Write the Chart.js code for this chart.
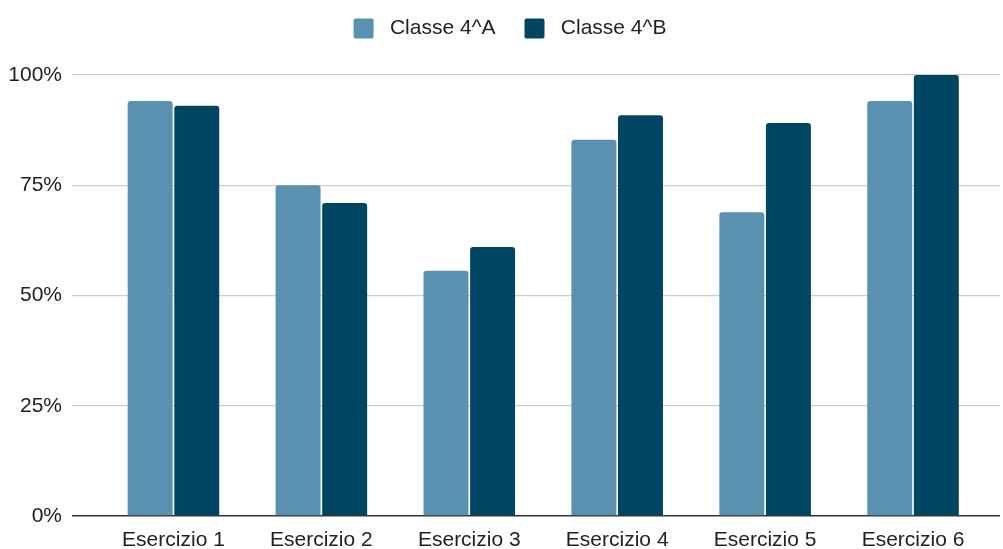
<!DOCTYPE html>
<html>

<head>
    <meta charset="utf-8">
    <title>Esercizi - Classi 4^A e 4^B</title>
    <script src="https://cdn.jsdelivr.net/npm/chart.js"></script>
    <style>
        html, body { margin: 0; padding: 0; background: #ffffff; }
        #wrap { width: 1003px; height: 549px; position: relative; }
    </style>
</head>

<body>
    <div id="wrap">
        <canvas id="grafico"></canvas>
    </div>

    <script>
        const esercizi = ['Esercizio 1', 'Esercizio 2', 'Esercizio 3', 'Esercizio 4', 'Esercizio 5', 'Esercizio 6'];
        const classe4A = [94.1, 75.0, 55.6, 85.3, 68.9, 94.1];
        const classe4B = [93.0, 71.0, 61.0, 90.9, 89.1, 100.0];
        const tickPercentuali = [0, 25, 50, 75, 100];

        const font = { family: "'Liberation Sans', Arial, sans-serif", size: 21 };

        // punti {x, y} sull'asse lineare, un indice per esercizio
        const punti = (valori) => valori.map((v, i) => ({ x: i, y: v }));

        // spazio extra sotto la legenda e legenda spostata (destra / su)
        const spazioLegenda = {
            id: 'spazioLegenda',
            beforeInit(chart) {
                const fit = chart.legend.fit;
                chart.legend.fit = function () {
                    fit.bind(this)();
                    this.height += 13;
                };
            },
            afterLayout(chart) {
                chart.legend.left += 20;
                chart.legend.top -= 13;
            }
        };

        const ctx = document.getElementById('grafico').getContext('2d');
        new Chart(ctx, {
            type: 'bar',
            data: {
                datasets: [{
                    label: 'Classe 4^A',
                    data: punti(classe4A),
                    backgroundColor: '#5a91b0',
                    borderRadius: { topLeft: 3, topRight: 3 },
                    borderSkipped: 'bottom'
                }, {
                    label: 'Classe 4^B',
                    data: punti(classe4B),
                    backgroundColor: '#004562',
                    borderRadius: { topLeft: 3, topRight: 3 },
                    borderSkipped: 'bottom'
                }]
            },
            options: {
                responsive: true,
                maintainAspectRatio: false,
                animation: false,
                categoryPercentage: 0.63,
                barPercentage: 0.965,
                layout: { padding: { top: 2, right: 3, bottom: 0, left: 0 } },
                scales: {
                    x: {
                        type: 'linear',
                        offset: false,
                        min: -0.686,
                        max: 5.588,
                        afterBuildTicks: (scale) => {
                            scale.ticks = esercizi.map((_, i) => ({ value: i }));
                        },
                        afterFit: (scale) => { scale.height = 33; },
                        grid: { display: false },
                        border: { display: false },
                        ticks: {
                            autoSkip: false,
                            maxRotation: 0,
                            padding: 4,
                            color: '#222222',
                            font: font,
                            callback: (v) => esercizi[v]
                        }
                    },
                    y: {
                        min: 0,
                        max: 100,
                        afterBuildTicks: (scale) => {
                            scale.ticks = tickPercentuali.map(v => ({ value: v }));
                        },
                        afterFit: (scale) => { scale.width = 72; },
                        border: { display: false },
                        grid: {
                            drawTicks: false,
                            lineWidth: (c) => c.tick && c.tick.value === 0 ? 1.5 : 1.2,
                            color: (c) => c.tick && c.tick.value === 0 ? '#333333' : '#cccccc'
                        },
                        ticks: {
                            padding: 10,
                            color: '#222222',
                            font: font,
                            callback: (v) => v + '%'
                        }
                    }
                },
                plugins: {
                    legend: {
                        position: 'top',
                        labels: {
                            boxWidth: 20,
                            boxHeight: 20,
                            padding: 29,
                            color: '#222222',
                            font: font,
                            useBorderRadius: true,
                            borderRadius: 2,
                            // un po' più di spazio tra il quadratino e il testo
                            generateLabels: (chart) => {
                                const base = Chart.defaults.plugins.legend.labels.generateLabels(chart);
                                return base.map(item => ({ ...item, text: ' ' + item.text }));
                            }
                        }
                    },
                    tooltip: { enabled: false }
                }
            },
            plugins: [spazioLegenda]
        });
    </script>
</body>

</html>
